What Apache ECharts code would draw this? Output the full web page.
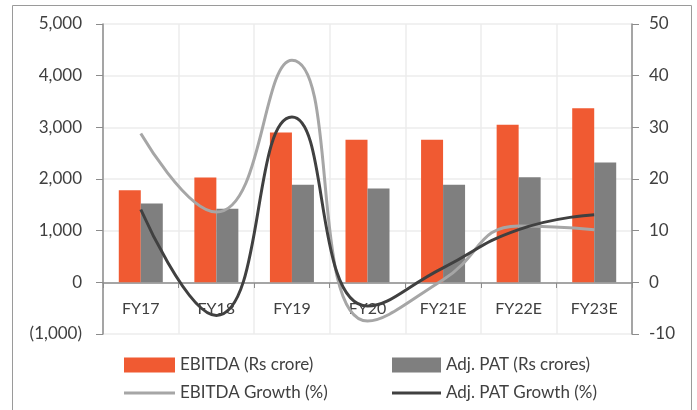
<!DOCTYPE html>
<html>
<head>
<meta charset="utf-8">
<script src="https://cdn.jsdelivr.net/npm/echarts@6/dist/echarts.min.js"></script>
<style>
  html, body { margin: 0; padding: 0; background: #fff; }
  #chart { width: 697px; height: 410px; }
</style>
</head>
<body>
<div id="chart"></div>
<script>
// values
const years = ['FY17', 'FY18', 'FY19', 'FY20', 'FY21E', 'FY22E', 'FY23E'];
const ebitda = [1780, 2030, 2900, 2760, 2760, 3050, 3370];
const adjPat = [1525, 1425, 1890, 1815, 1890, 2035, 2320];
const ebitdaGrowth = [28.8, 13.6, 43, -7.5, 0.5, 10.9, 10.2];
const patGrowth = [14.1, -6.4, 32, -4.6, 2.8, 10.2, 13.1];

const font = 'Lato';
const axisGray = '#8c8c8c';
const textColor = '#404040';

var chart = echarts.init(document.getElementById('chart'));

const fmtLeft = v => {
  let s = Math.abs(v).toLocaleString('en-US');
  return v < 0 ? '(' + s + ')' : s;
};

const legendText = { fontSize: 17, color: textColor, fontFamily: font, height: 20, lineHeight: 20 };

chart.setOption({
  animation: false,
  textStyle: { fontFamily: font },
  graphic: [{
    type: 'rect',
    shape: { x: 12.5, y: 5.5, width: 679, height: 420 },
    style: { fill: 'none', stroke: '#9a9a9a', lineWidth: 1 }
  }],
  grid: { left: 103, right: 65, top: 24, bottom: 76 },
  legend: [{
    left: 124, top: 355, padding: 0, itemWidth: 51, itemHeight: 15,
    textStyle: legendText,
    data: [{ name: 'EBITDA (Rs crore)', icon: 'rect' }]
  }, {
    left: 124, top: 383, padding: 0, itemWidth: 51, itemHeight: 3,
    textStyle: legendText,
    data: [{ name: 'EBITDA Growth (%)', icon: 'rect' }]
  }, {
    left: 392, top: 355, padding: 0, itemWidth: 49, itemHeight: 15,
    textStyle: legendText,
    data: [{ name: 'Adj. PAT (Rs crores)', icon: 'rect' }]
  }, {
    left: 392, top: 383, padding: 0, itemWidth: 49, itemHeight: 3,
    textStyle: legendText,
    data: [{ name: 'Adj. PAT Growth (%)', icon: 'rect' }]
  }],
  xAxis: {
    type: 'category',
    data: years,
    offset: -51,
    axisLine: { onZero: false, lineStyle: { color: axisGray, width: 1.5 } },
    axisTick: { show: true, length: 5, lineStyle: { color: axisGray } },
    axisLabel: { fontSize: 16, color: textColor, margin: 18 },
    splitLine: { show: true, lineStyle: { color: '#ececec', width: 1.5 } }
  },
  yAxis: [{
    type: 'value',
    min: -1000, max: 5000, interval: 1000,
    axisLine: { show: true, lineStyle: { color: axisGray, width: 1.5 } },
    axisTick: { show: true, length: 7, lineStyle: { color: axisGray } },
    axisLabel: { fontSize: 17, color: textColor, margin: 21, formatter: fmtLeft },
    splitLine: { lineStyle: { color: '#ececec', width: 1.5 } }
  }, {
    type: 'value',
    min: -10, max: 50, interval: 10,
    axisLine: { show: true, lineStyle: { color: axisGray, width: 1.5 } },
    axisTick: { show: true, length: 7, lineStyle: { color: axisGray } },
    axisLabel: { fontSize: 17, color: textColor, margin: 17 },
    splitLine: { show: false }
  }],
  series: [{
    name: 'EBITDA (Rs crore)',
    type: 'bar',
    data: ebitda,
    barWidth: 22,
    barGap: '0%',
    itemStyle: { color: '#f05a32' }
  }, {
    name: 'Adj. PAT (Rs crores)',
    type: 'bar',
    data: adjPat,
    barWidth: 22,
    itemStyle: { color: '#7f7f7f' }
  }, {
    name: 'EBITDA Growth (%)',
    type: 'line',
    yAxisIndex: 1,
    data: ebitdaGrowth,
    smooth: 0.5,
    symbol: 'none',
    lineStyle: { color: '#a6a6a6', width: 3 },
    itemStyle: { color: '#a6a6a6' }
  }, {
    name: 'Adj. PAT Growth (%)',
    type: 'line',
    yAxisIndex: 1,
    data: patGrowth,
    smooth: 0.5,
    symbol: 'none',
    lineStyle: { color: '#404040', width: 3 },
    itemStyle: { color: '#404040' }
  }]
});
</script>
</body>
</html>
